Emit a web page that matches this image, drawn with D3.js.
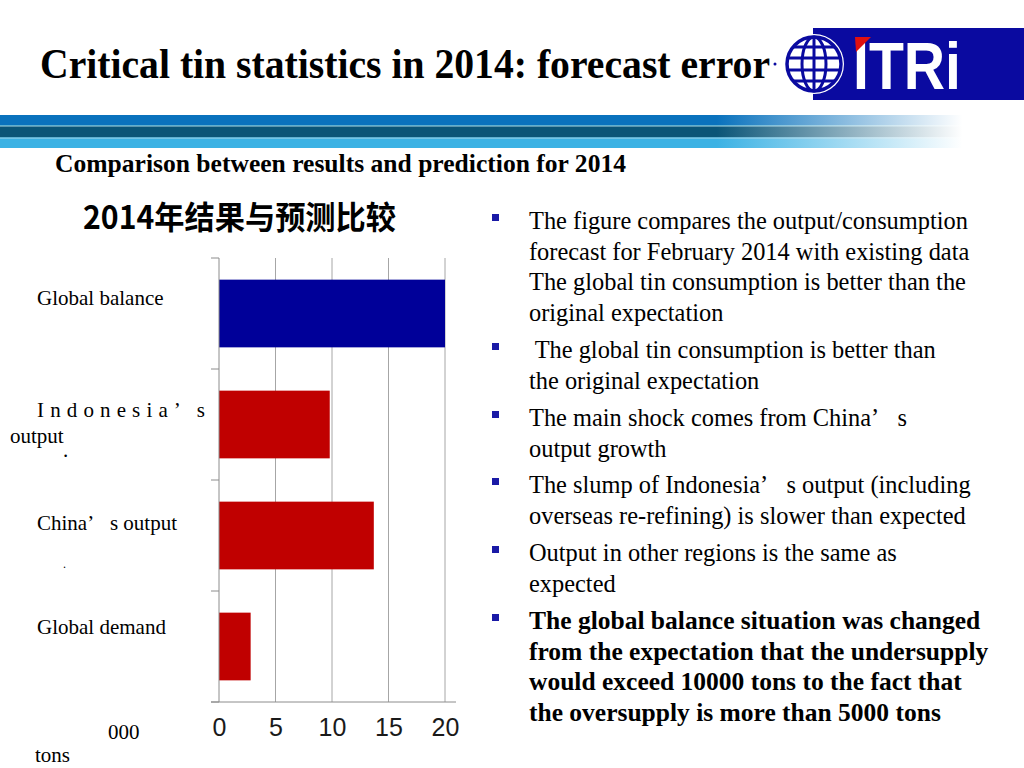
<!DOCTYPE html>
<html>
<head>
<meta charset="utf-8">
<script src="https://cdn.jsdelivr.net/npm/d3@7"></script>
<style>
  html, body { margin: 0; padding: 0; background: #ffffff; }
  svg { display: block; }
</style>
</head>
<body>
<div id="chart"></div>
<script>
// chart data
var categories = ["Global balance", "Indonesia’s output", "China’s output", "Global demand"];
var values = [20, 9.8, 13.7, 2.8];
var barColors = ["#000099", "#c00000", "#c00000", "#c00000"];
var xTicks = [0, 5, 10, 15, 20];

// bullet text, one array of lines per bullet
var bullets = [
  ["The figure compares the output/consumption", "forecast for February 2014 with existing data", "The global tin consumption is better than the", "original expectation"],
  [" The global tin consumption is better than", "the original expectation"],
  ["The main shock comes from China’\u2002 s", "output growth"],
  ["The slump of Indonesia’\u2002 s output (including", "overseas re-refining) is slower than expected"],
  ["Output in other regions is the same as", "expected"],
  ["The global balance situation was changed", "from the expectation that the undersupply", "would exceed 10000 tons to the fact that", "the oversupply is more than 5000 tons"]
];
var bulletBold = [false, false, false, false, false, true];

var W = 1024, H = 768;
var serif = "'Liberation Serif', 'Times New Roman', serif";
var sans = "'Liberation Sans', Arial, sans-serif";

var svg = d3.select("#chart").append("svg")
    .attr("width", W)
    .attr("height", H);

var defs = svg.append("defs");

// header band gradients (fade out to the right)
function fadeGrad(id, color) {
  var g = defs.append("linearGradient").attr("id", id)
      .attr("x1", "0").attr("x2", "1").attr("y1", "0").attr("y2", "0");
  g.append("stop").attr("offset", "0").attr("stop-color", color).attr("stop-opacity", 1);
  g.append("stop").attr("offset", "0.70").attr("stop-color", color).attr("stop-opacity", 1);
  g.append("stop").attr("offset", "0.94").attr("stop-color", color).attr("stop-opacity", 0);
}
fadeGrad("gTop", "#0a72bd");
fadeGrad("gMid", "#0b5577");
fadeGrad("gBot", "#3cb2e4");
fadeGrad("gLine", "#5fb0d0");

var band = svg.append("g");
band.append("rect").attr("x", 0).attr("y", 115).attr("width", W).attr("height", 10).attr("fill", "url(#gTop)");
band.append("rect").attr("x", 0).attr("y", 125).attr("width", W).attr("height", 1.5).attr("fill", "url(#gLine)");
band.append("rect").attr("x", 0).attr("y", 126.5).attr("width", W).attr("height", 10.5).attr("fill", "url(#gMid)");
band.append("rect").attr("x", 0).attr("y", 137).attr("width", W).attr("height", 1.5).attr("fill", "url(#gLine)");
band.append("rect").attr("x", 0).attr("y", 138.5).attr("width", W).attr("height", 9.5).attr("fill", "url(#gBot)");

// page title
svg.append("text")
    .attr("x", 40)
    .attr("y", 78)
    .attr("textLength", 730)
    .attr("lengthAdjust", "spacingAndGlyphs")
    .style("font-family", serif)
    .style("font-weight", "bold")
    .style("font-size", "42px")
    .style("fill", "#000")
    .text("Critical tin statistics in 2014: forecast error");

// logo
var logo = svg.append("g");
logo.append("rect").attr("x", 813).attr("y", 28).attr("width", 211).attr("height", 72).attr("fill", "#0a0aa0");
logo.append("circle").attr("cx", 775).attr("cy", 64).attr("r", 1.5).attr("fill", "#0a0aa0");
var globe = logo.append("g").attr("transform", "translate(814,64)");
globe.append("circle").attr("r", 30).attr("fill", "#ffffff");
globe.append("circle").attr("r", 27).attr("fill", "none").attr("stroke", "#0a0aa0").attr("stroke-width", 3.5);
globe.append("ellipse").attr("rx", 12).attr("ry", 27).attr("fill", "none").attr("stroke", "#0a0aa0").attr("stroke-width", 3);
globe.append("line").attr("x1", 0).attr("x2", 0).attr("y1", -27).attr("y2", 27).attr("stroke", "#0a0aa0").attr("stroke-width", 3);
[-17, -6, 6, 17].forEach(function (yy) {
  var hw = Math.sqrt(27 * 27 - yy * yy);
  globe.append("line").attr("x1", -hw).attr("x2", hw).attr("y1", yy).attr("y2", yy)
      .attr("stroke", "#0a0aa0").attr("stroke-width", 3);
});
logo.append("text")
    .attr("x", 853)
    .attr("y", 89)
    .attr("textLength", 108)
    .attr("lengthAdjust", "spacingAndGlyphs")
    .style("font-family", sans)
    .style("font-weight", "bold")
    .style("font-size", "66px")
    .style("fill", "#ffffff")
    .text("ITRi");
logo.append("path").attr("d", "M855,37 L871,37 L856,52 Z").attr("fill", "#e01010");

// subtitle
svg.append("text")
    .attr("x", 55)
    .attr("y", 172)
    .attr("textLength", 571)
    .attr("lengthAdjust", "spacingAndGlyphs")
    .style("font-family", serif)
    .style("font-weight", "bold")
    .style("font-size", "25px")
    .style("fill", "#000")
    .text("Comparison between results and prediction for 2014");

// chart title (Chinese)
svg.append("text")
    .attr("x", 83)
    .attr("y", 229)
    .attr("textLength", 313)
    .attr("lengthAdjust", "spacingAndGlyphs")
    .style("font-family", "'Noto Sans CJK SC', sans-serif")
    .style("font-weight", "bold")
    .style("font-size", "32px")
    .style("fill", "#000")
    .text("2014年结果与预测比较");

// scales
var x = d3.scaleLinear().domain([0, 20]).range([219, 445]);
var y = d3.scaleBand().domain(categories).range([258, 702])
    .paddingInner(0.39).paddingOuter(0.195);

var chart = svg.append("g");

// vertical gridlines
chart.selectAll(".grid")
    .data(xTicks.slice(1))
    .enter().append("line")
    .attr("class", "grid")
    .attr("x1", function (d) { return x(d); })
    .attr("x2", function (d) { return x(d); })
    .attr("y1", 258)
    .attr("y2", 702)
    .attr("stroke", "#a6a6a6")
    .attr("stroke-width", 1);

// bars
chart.selectAll(".bar")
    .data(values)
    .enter().append("rect")
    .attr("class", "bar")
    .attr("x", x(0))
    .attr("y", function (d, i) { return y(categories[i]); })
    .attr("width", function (d) { return x(d) - x(0); })
    .attr("height", y.bandwidth())
    .attr("fill", function (d, i) { return barColors[i]; });

// left axis line with category boundary ticks
var step = y.step();
var bounds = d3.range(categories.length + 1).map(function (i) { return 258 + i * step; });
chart.append("line")
    .attr("x1", x(0)).attr("x2", x(0))
    .attr("y1", 258).attr("y2", 702)
    .attr("stroke", "#8c8c8c");
chart.selectAll(".ytick")
    .data(bounds)
    .enter().append("line")
    .attr("class", "ytick")
    .attr("x1", x(0) - 8).attr("x2", x(0))
    .attr("y1", function (d) { return d; })
    .attr("y2", function (d) { return d; })
    .attr("stroke", "#8c8c8c");

// bottom axis
var xAxis = chart.append("g")
    .attr("transform", "translate(0,702)")
    .call(d3.axisBottom(x).tickValues(xTicks).tickSize(0).tickPadding(16));
xAxis.select(".domain").remove();
xAxis.selectAll("text")
    .style("font-family", sans)
    .style("font-size", "25px")
    .style("fill", "#1a1a1a");
chart.append("line")
    .attr("x1", 211).attr("x2", 456)
    .attr("y1", 702).attr("y2", 702)
    .attr("stroke", "#8c8c8c");

// category labels (as laid out in the slide)
var labels = svg.append("g")
    .style("font-family", serif)
    .style("font-size", "21px")
    .style("fill", "#000");
labels.append("text").attr("x", 37).attr("y", 305).text(categories[0]);
labels.append("text").attr("x", 37).attr("y", 417)
    .attr("textLength", 168).attr("lengthAdjust", "spacing")
    .text("Indonesia’ s");
labels.append("text").attr("x", 10).attr("y", 443).text("output");
labels.append("text").attr("x", 63).attr("y", 457).text(".");
labels.append("text").attr("x", 37).attr("y", 530)
    .attr("xml:space", "preserve").style("white-space", "pre")
    .text("China’\u2002 s output");
labels.append("text").attr("x", 63).attr("y", 568).style("font-size", "12px").text(".");
labels.append("text").attr("x", 37).attr("y", 634).text(categories[3]);
labels.append("text").attr("x", 108).attr("y", 739).text("000");
labels.append("text").attr("x", 35).attr("y", 762).text("tons");

// bullet list
var lineH = 30.6;
var bulletStart = [229, 358, 426, 493, 561, 629];
var list = svg.append("g");
bullets.forEach(function (lines, bi) {
  var by = bulletStart[bi];
  list.append("rect")
      .attr("x", 492)
      .attr("y", by - 15)
      .attr("width", 7)
      .attr("height", 7)
      .attr("fill", "#1a1aa6");
  lines.forEach(function (ln, li) {
    list.append("text")
        .attr("x", 529)
        .attr("y", by + li * lineH)
        .attr("xml:space", "preserve")
        .style("white-space", "pre")
        .style("font-family", serif)
        .style("font-size", bulletBold[bi] ? "25.5px" : "24.4px")
        .style("font-weight", bulletBold[bi] ? "bold" : "normal")
        .style("fill", "#000")
        .text(ln);
  });
});
</script>
</body>
</html>
